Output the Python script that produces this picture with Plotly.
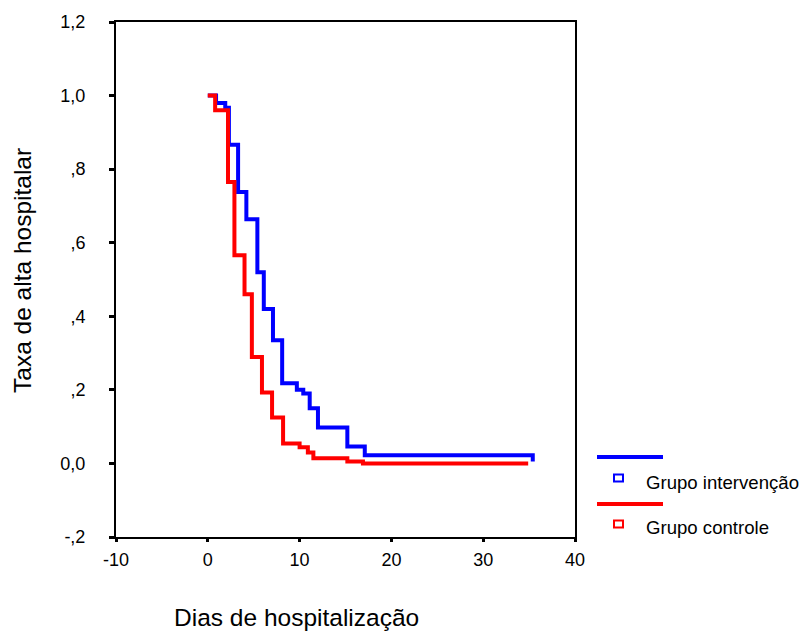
import plotly.graph_objects as go

# Kaplan-Meier style step data (days, survival proportion)
t_int = [0, 0.9, 1.9, 2.3, 3.3, 4.2, 5.4, 6.1, 7.1, 8.1, 9.7, 10.4, 11.1, 12.0, 15.2, 17.1, 35.4]
s_int = [1.0, 0.98, 0.967, 0.866, 0.738, 0.664, 0.52, 0.42, 0.335, 0.218, 0.20, 0.19, 0.15, 0.098, 0.046, 0.022, 0.005]

t_ctl = [0, 0.8, 2.2, 2.9, 4.0, 4.8, 5.9, 7.0, 8.2, 10.0, 10.9, 11.5, 15.2, 16.9, 34.9]
s_ctl = [1.0, 0.96, 0.765, 0.566, 0.46, 0.289, 0.193, 0.125, 0.054, 0.044, 0.030, 0.014, 0.005, 0.0, 0.0]

x_ticks = [-10, 0, 10, 20, 30, 40]
y_ticks = [-0.2, 0.0, 0.2, 0.4, 0.6, 0.8, 1.0, 1.2]
y_labels = ["-,2", "0,0", ",2", ",4", ",6", ",8", "1,0", "1,2"]

series_names = ["Grupo intervenção", "Grupo controle"]
colors = ["#0000FF", "#FF0000"]

FONT = "Liberation Sans, Arial, sans-serif"

fig = go.Figure()
fig.add_trace(go.Scatter(x=t_int, y=s_int, mode="lines", line=dict(color=colors[0], width=4, shape="hv"),
                         name=series_names[0], showlegend=False))
fig.add_trace(go.Scatter(x=t_ctl, y=s_ctl, mode="lines", line=dict(color=colors[1], width=4, shape="hv"),
                         name=series_names[1], showlegend=False))

L, R, T, B = 116, 575, 22, 537
W, H = 803, 632
def px(x):
    return (x - L) / (R - L)
def py(y):
    return (B - y) / (B - T)

shapes = []
annotations = []
legend_rows = [(457, 478, 482), (504, 524, 527)]
for i, (ly, sy, ty) in enumerate(legend_rows):
    shapes.append(dict(type="line", xref="paper", yref="paper", x0=px(597), x1=px(663), y0=py(ly), y1=py(ly),
                       line=dict(color=colors[i], width=4)))
    shapes.append(dict(type="rect", xref="paper", yref="paper", x0=px(614), x1=px(623), y0=py(sy - 3.5), y1=py(sy + 3.5),
                       line=dict(color=colors[i], width=2), fillcolor="white"))
    annotations.append(dict(text=series_names[i], xref="paper", yref="paper", x=px(644), y=py(ty),
                            xanchor="left", yanchor="middle", showarrow=False,
                            font=dict(family=FONT, size=18.6, color="black")))

annotations.append(dict(text="Dias de hospitalização", xref="paper", yref="paper", x=px(296), y=py(617),
                        xanchor="center", yanchor="middle", showarrow=False,
                        font=dict(family=FONT, size=24.5, color="black")))
annotations.append(dict(text="Taxa de alta hospitalar", xref="paper", yref="paper", x=px(22), y=py(271),
                        xanchor="center", yanchor="middle", showarrow=False, textangle=-90,
                        font=dict(family=FONT, size=24.5, color="black")))

fig.update_layout(
    width=W, height=H,
    margin=dict(l=L, r=W - R, t=T, b=H - B, pad=0),
    paper_bgcolor="white", plot_bgcolor="white",
    font=dict(family=FONT, size=18, color="black"),
    shapes=shapes, annotations=annotations,
    showlegend=False,
)
fig.update_xaxes(range=[-10, 40], tickvals=x_ticks, ticktext=[str(v) for v in x_ticks],
                 showline=True, linecolor="black", linewidth=2, mirror=True,
                 ticks="outside", ticklen=3, tickwidth=3, tickcolor="black",
                 showgrid=False, zeroline=False, ticklabelstandoff=2,
                 tickfont=dict(family=FONT, size=18, color="black"))
fig.update_yaxes(range=[-0.2, 1.2], tickvals=y_ticks, ticktext=y_labels,
                 showline=True, linecolor="black", linewidth=2, mirror=True,
                 ticks="outside", ticklen=5, tickwidth=3, tickcolor="black",
                 showgrid=False, zeroline=False, ticklabelstandoff=20,
                 tickfont=dict(family=FONT, size=18, color="black"))

fig.write_html("out.html")
